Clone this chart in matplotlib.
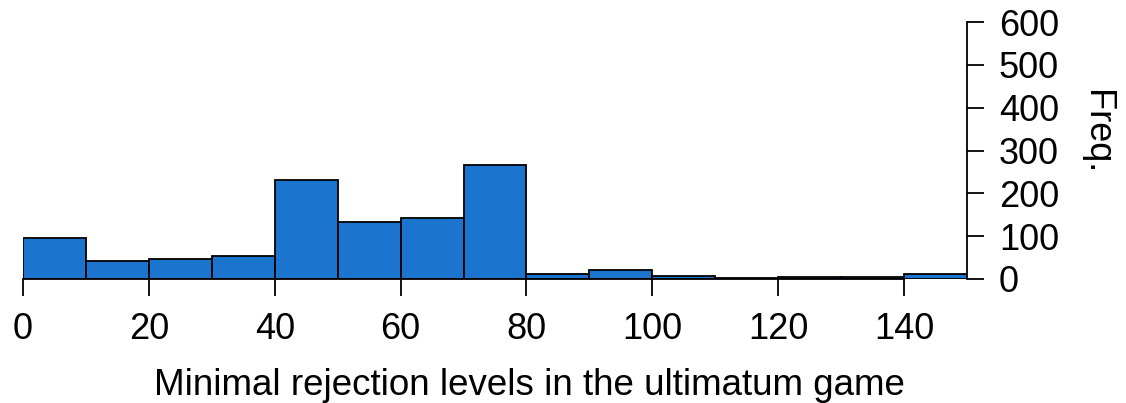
import matplotlib
matplotlib.use("Agg")
import matplotlib.pyplot as plt

bin_edges = [0, 10, 20, 30, 40, 50, 60, 70, 80, 90, 100, 110, 120, 130, 140, 150]
counts = [96, 43, 46, 54, 232, 134, 142, 267, 12, 20, 8, 2, 5, 4, 11]
x_ticks = [0, 20, 40, 60, 80, 100, 120, 140]
y_ticks = [0, 100, 200, 300, 400, 500, 600]

plt.rcParams['font.family'] = ['Liberation Sans', 'DejaVu Sans']

fig = plt.figure(figsize=(11.26, 4.03), dpi=100)
ax = fig.add_axes([23/1126, 1 - 279/403, 944/1126, 257/403])

lefts = bin_edges[:-1]
widths = [b - a for a, b in zip(bin_edges[:-1], bin_edges[1:])]
ax.bar(lefts, counts, width=widths, align='edge', color='#1B75CE',
       edgecolor='black', linewidth=1.3, zorder=2)

ax.set_xlim(0, 150)
ax.set_ylim(0, 600)

for s in ['top', 'left']:
    ax.spines[s].set_visible(False)
ax.spines['bottom'].set_bounds(0, 140)
ax.spines['right'].set_bounds(0, 600)
ax.spines['bottom'].set_linewidth(1.3)
ax.spines['right'].set_linewidth(1.3)

ax.yaxis.tick_right()
ax.set_xticks(x_ticks)
ax.set_yticks(y_ticks)
ax.tick_params(axis='x', length=12, width=1.3, labelsize=26, pad=12)
ax.tick_params(axis='y', length=12, width=1.3, labelsize=26, pad=11)

fig.text(529/1126, (403 - 395)/403, 'Minimal rejection levels in the ultimatum game',
         fontsize=26.5, ha='center', va='baseline')
fig.text(1097/1126, 1 - 132/403, 'Freq.', fontsize=26, rotation=-90,
         ha='center', va='center')

fig.savefig('out.png', dpi=100)
